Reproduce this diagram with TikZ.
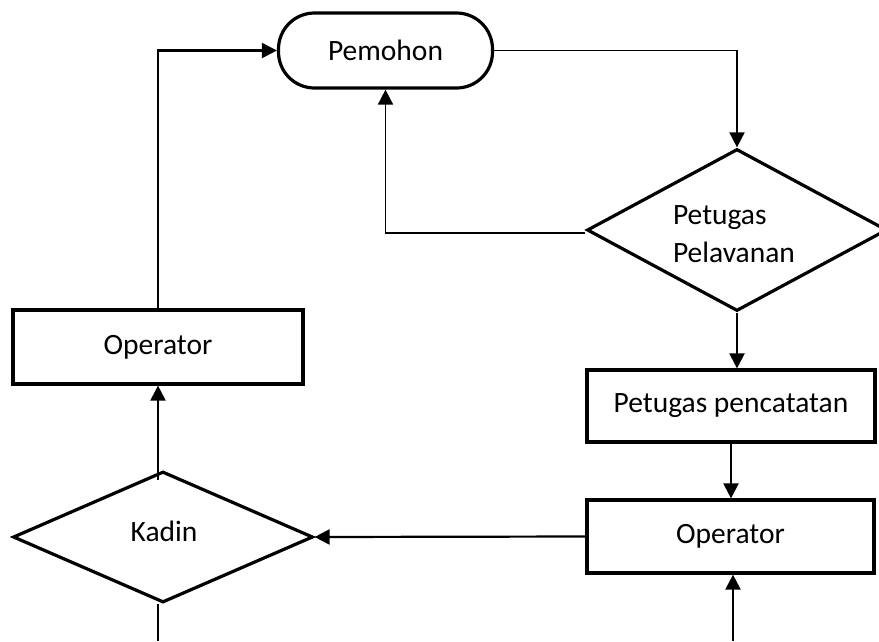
\documentclass[tikz,border=0pt]{standalone}
\usepackage{fontspec}
\setmainfont{Carlito}
\usetikzlibrary{shapes.geometric,arrows.meta}
\begin{document}
\begin{tikzpicture}[x=1pt,y=-1pt,
  every node/.style={font=\fontsize{29.5}{38}\selectfont, inner sep=0pt},
  boxnode/.style={draw, line width=3.2pt, rectangle},
  termnode/.style={draw, line width=3.2pt, rectangle, rounded corners=36pt},
  decnode/.style={draw, line width=3.2pt, diamond, aspect=2},
  conn/.style={line width=2.2pt},
  thin conn/.style={line width=1.7pt},
  arr/.style={-{Triangle[length=15pt,width=15pt]}}]
\useasboundingbox (0,0) rectangle (879,641);
\clip (0,0) rectangle (879,641);
\node[termnode, minimum width=214pt, minimum height=75pt] (pem) at (385.5,50.5) {Pemohon};
\node[decnode, minimum width=300pt, minimum height=162pt] (pp) at (737,230) {};
\node[align=left] (pptext) at (734,234) {Petugas\\Pelavanan};
\node[boxnode, minimum width=288pt, minimum height=72pt] (pc) at (731,406) {Petugas pencatatan};
\node[boxnode, minimum width=287pt, minimum height=73pt] (opR) at (730.5,536.5) {Operator};
\node[decnode, minimum width=300pt, minimum height=131pt] (kad) at (163,537) {};
\node (kadtext) at (164,531) {Kadin};
\node[boxnode, minimum width=290pt, minimum height=74pt] (opL) at (158,347) {Operator};
\coordinate (bR) at (733,641);
\coordinate (bL) at (158,641);
% connectors
\draw[conn, arr] (opL.north) |- (pem.west);
\draw[thin conn, arr] (pem.east) -| (pp.north);
\draw[thin conn, arr] ([yshift=-3pt]pp.west) -| (pem.south);
\draw[conn, arr] (pp.south) -- (pp.south |- pc.north);
\draw[conn, arr] (pc.south) -- (pc.south |- opR.north);
\draw[conn, arr] (bR) -- (bR |- opR.south);
\draw[conn, arr] (opR.west) -- (kad.east);
\draw[conn, arr] ([yshift=-10pt]opL.south |- kad.north) -- (opL.south);
\draw[conn] (bL |- kad.south) -- (bL);
\end{tikzpicture}
\end{document}
